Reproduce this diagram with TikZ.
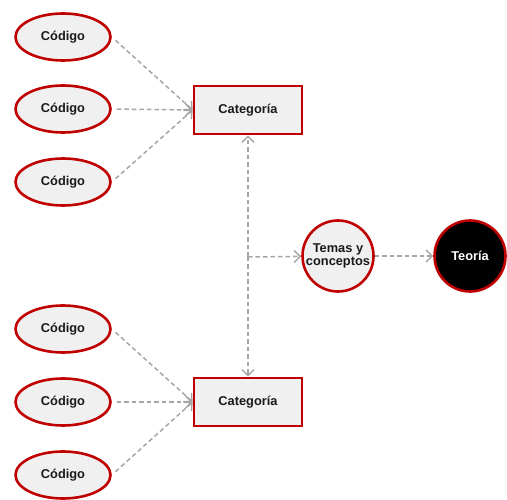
\documentclass[tikz,border=0pt]{standalone}
\usepackage{fontspec}
\setmainfont{Liberation Sans}
\usetikzlibrary{arrows.meta,shapes.geometric}
\definecolor{edgered}{HTML}{C00000}
\definecolor{boxfill}{HTML}{F0F0F0}
\definecolor{linkgray}{HTML}{A6A6A6}
\definecolor{inkdark}{HTML}{1A1A1A}
\tikzset{
  lbl/.style={font=\fontsize{12.8}{15}\selectfont\bfseries, text=inkdark},
  codigo/.style={ellipse, draw=edgered, line width=2.6pt, fill=boxfill, lbl,
    minimum width=95pt, minimum height=47pt, inner sep=0pt},
  categoria/.style={rectangle, draw=edgered, line width=2.6pt, fill=boxfill, lbl,
    minimum width=108pt, minimum height=48pt, inner sep=0pt},
  tema/.style={circle, draw=edgered, line width=2.6pt, fill=boxfill, lbl,
    minimum size=71pt, inner sep=0pt, align=center},
  teoria/.style={circle, draw=edgered, line width=2.6pt, fill=black, lbl,
    text=white, minimum size=71pt, inner sep=0pt},
  link/.style={draw=linkgray, line width=1.5pt, dash pattern=on 4.5pt off 3pt,
    -{Straight Barb[length=6pt,width=12pt]}},
}
\begin{document}
\begin{tikzpicture}[x=1pt,y=-1pt]
  \useasboundingbox (0,0) rectangle (507,500);

  % upper group
  \node[codigo] (c1) at (63,37) {Código};
  \node[codigo] (c2) at (63,109) {Código};
  \node[codigo] (c3) at (63,182) {Código};
  \node[categoria] (k1) at (248,110) {Categoría};

  % lower group
  \node[codigo] (c4) at (63,329) {Código};
  \node[codigo] (c5) at (63,402) {Código};
  \node[codigo] (c6) at (63,475) {Código};
  \node[categoria] (k2) at (248,402) {Categoría};

  % themes and theory
  \node[tema] (tm) at (338,256) {Temas y\\[-2pt]conceptos};
  \node[teoria] (te) at (470,256) {Teoría};

  \coordinate (j) at (248,257);

  \foreach \c in {c1,c2,c3} \draw[link, shorten <=5pt] (\c.east) -- (k1.west);
  \foreach \c in {c4,c5,c6} \draw[link, shorten <=5pt] (\c.east) -- (k2.west);

  \draw[link] (j) -- (k1);
  \draw[link] (j) -- (k2);
  \draw[link] (j) -- (tm);
  \draw[link] (tm) -- (te);
\end{tikzpicture}
\end{document}
